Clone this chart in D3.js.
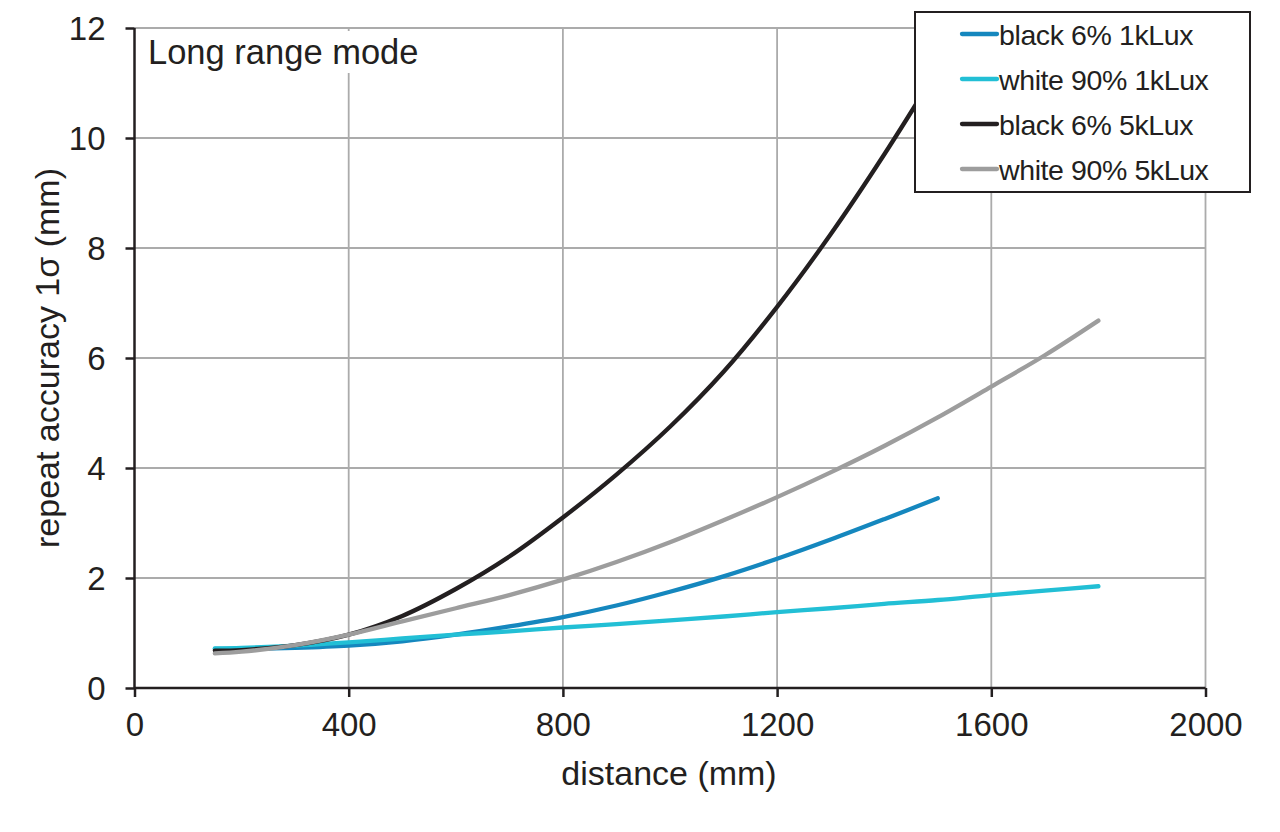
<!DOCTYPE html>
<html>
<head>
<meta charset="utf-8">
<script src="https://cdn.jsdelivr.net/npm/d3@7"></script>
<style>
  body { margin: 0; background: #fff; }
  svg { display: block; font-family: "Liberation Sans", Arial, sans-serif; }
</style>
</head>
<body>
<div id="chart"></div>
<script>
// distances (mm) at which values were read
const distBlack = [150, 200, 300, 400, 500, 600, 700, 800, 900, 1000, 1100, 1200, 1300, 1400, 1500];
const distWhite = [150, 200, 300, 400, 500, 600, 700, 800, 900, 1000, 1100, 1200, 1300, 1400, 1500, 1600, 1700, 1800];

// repeat accuracy 1σ (mm)
const black1k = [0.71, 0.71, 0.73, 0.77, 0.85, 0.97, 1.12, 1.29, 1.5, 1.75, 2.03, 2.35, 2.7, 3.07, 3.45];
const white1k = [0.72, 0.73, 0.77, 0.83, 0.9, 0.97, 1.03, 1.1, 1.16, 1.23, 1.3, 1.38, 1.45, 1.53, 1.6, 1.69, 1.77, 1.85];
const black5k = [0.68, 0.69, 0.78, 0.97, 1.31, 1.8, 2.39, 3.1, 3.88, 4.75, 5.75, 6.93, 8.25, 9.7, 11.25];
const white5k = [0.63, 0.66, 0.78, 0.97, 1.21, 1.45, 1.69, 1.97, 2.29, 2.65, 3.05, 3.47, 3.92, 4.4, 4.92, 5.48, 6.05, 6.68];

const seriesNames = ["black 6% 1kLux", "white 90% 1kLux", "black 6% 5kLux", "white 90% 5kLux"];
const seriesColors = ["#1587be", "#22bfd5", "#231f20", "#9d9d9d"];

const xTicks = [0, 400, 800, 1200, 1600, 2000];
const yTicks = [0, 2, 4, 6, 8, 10, 12];

const series = [
  {name: seriesNames[0], color: seriesColors[0], xs: distBlack, ys: black1k},
  {name: seriesNames[1], color: seriesColors[1], xs: distWhite, ys: white1k},
  {name: seriesNames[2], color: seriesColors[2], xs: distBlack, ys: black5k},
  {name: seriesNames[3], color: seriesColors[3], xs: distWhite, ys: white5k}
];

const width = 1280, height = 832;
const svg = d3.select("#chart").append("svg")
    .attr("width", width)
    .attr("height", height);

const x = d3.scaleLinear().domain([0, 2000]).range([134.5, 1205.5]);
const y = d3.scaleLinear().domain([0, 12]).range([688, 28]);

// grid
const grid = svg.append("g").attr("stroke", "#ababab").attr("stroke-width", 1.8);
grid.selectAll(".gx").data(xTicks.slice(1)).join("line")
    .attr("x1", d => x(d)).attr("x2", d => x(d))
    .attr("y1", y(0)).attr("y2", y(12));
grid.selectAll(".gy").data(yTicks.slice(1)).join("line")
    .attr("x1", x(0)).attr("x2", x(2000))
    .attr("y1", d => y(d)).attr("y2", d => y(d));

// white label box over the grid
svg.append("rect")
    .attr("x", x(0) + 2).attr("y", 31)
    .attr("width", 300).attr("height", 42)
    .attr("fill", "#fff");
svg.append("text")
    .attr("x", 148).attr("y", 64)
    .attr("font-size", 34.5)
    .attr("fill", "#231f20")
    .text("Long range mode");

// axes
const fmt = d3.format("d");
const xAxis = svg.append("g")
    .attr("transform", `translate(0,${y(0)})`)
    .call(d3.axisBottom(x).tickValues(xTicks).tickFormat(fmt).tickSize(9).tickPadding(16));
const yAxis = svg.append("g")
    .attr("transform", `translate(${x(0)},0)`)
    .call(d3.axisLeft(y).tickValues(yTicks).tickFormat(fmt).tickSize(9).tickPadding(20));

[xAxis, yAxis].forEach(a => {
  a.select(".domain").attr("stroke", "#231f20").attr("stroke-width", 2.5);
  a.selectAll(".tick line").attr("stroke", "#231f20").attr("stroke-width", 2.5);
  a.selectAll(".tick text")
      .attr("font-size", 33)
      .attr("fill", "#231f20")
      .attr("font-family", "Liberation Sans, Arial, sans-serif");
});
yAxis.select(".domain").attr("d", `M0,${y(0)}V${y(12)}`);
yAxis.selectAll(".tick text").attr("dy", "0.36em");
xAxis.select(".domain").attr("d", `M0,0H${x(2000) - x(0)}`).attr("transform", `translate(${x(0)},0)`);

// axis titles
svg.append("text")
    .attr("x", 669).attr("y", 785)
    .attr("text-anchor", "middle")
    .attr("font-size", 34)
    .attr("fill", "#231f20")
    .text("distance (mm)");
svg.append("text")
    .attr("transform", "translate(59,358) rotate(-90)")
    .attr("text-anchor", "middle")
    .attr("font-size", 34)
    .attr("fill", "#231f20")
    .text("repeat accuracy 1σ (mm)");

// curves
const line = d3.line()
    .x(d => x(d[0]))
    .y(d => y(d[1]))
    .curve(d3.curveCatmullRom.alpha(0.5));

svg.append("g").selectAll("path")
    .data(series)
    .join("path")
      .attr("d", s => line(s.xs.map((v, i) => [v, s.ys[i]])))
      .attr("fill", "none")
      .attr("stroke", s => s.color)
      .attr("stroke-width", 4.3)
      .attr("stroke-linecap", "round")
      .attr("stroke-linejoin", "round");

// legend
const legend = svg.append("g");
legend.append("rect")
    .attr("x", 915).attr("y", 12)
    .attr("width", 335).attr("height", 180)
    .attr("fill", "#fff")
    .attr("stroke", "#231f20")
    .attr("stroke-width", 2);
const item = legend.selectAll(".item")
    .data(series)
    .join("g")
      .attr("transform", (d, i) => `translate(0,${34 + i * 45})`);
item.append("line")
    .attr("x1", 962).attr("x2", 997)
    .attr("stroke", d => d.color)
    .attr("stroke-width", 4.3)
    .attr("stroke-linecap", "round");
item.append("text")
    .attr("x", 999).attr("y", 10.5)
    .attr("font-size", 28.5)
    .attr("letter-spacing", -0.4)
    .attr("fill", "#231f20")
    .text(d => d.name);
</script>
</body>
</html>
